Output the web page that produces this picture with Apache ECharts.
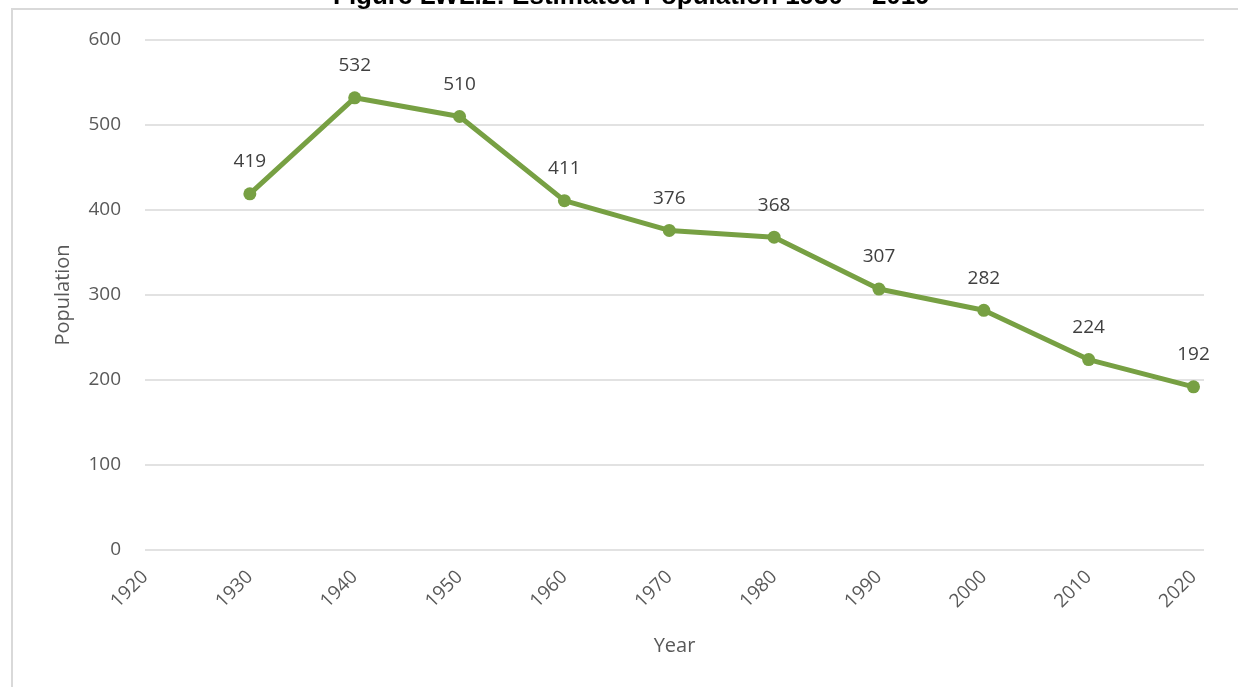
<!DOCTYPE html>
<html>
<head>
<meta charset="utf-8">
<script src="https://cdn.jsdelivr.net/npm/echarts@6/dist/echarts.min.js"></script>
<style>
html,body{margin:0;padding:0;background:#fff;}
#frame{position:absolute;left:11px;top:8px;width:1240px;height:700px;border-left:2px solid #d9d9d9;border-top:2px solid #d9d9d9;}
#c{position:absolute;left:0;top:0;width:1238px;height:687px;}
</style>
</head>
<body>
<div id="frame"></div>
<div id="c"></div>
<script>
const years = [1930, 1940, 1950, 1960, 1970, 1980, 1990, 2000, 2010, 2020];
const population = [419, 532, 510, 411, 376, 368, 307, 282, 224, 192];
const titleText = 'Figure LWL.2: Estimated Population 1930 \u2013 2019';

const chart = echarts.init(document.getElementById('c'), null, {renderer: 'canvas'});
const font = '"Open Sans", "Liberation Sans", sans-serif';
chart.setOption({
  animation: false,
  title: {
    text: titleText,
    left: 328,
    top: -21,
    textStyle: {fontFamily: '"Liberation Sans", Arial, sans-serif', fontWeight: 'bold', fontSize: 26, color: '#000'}
  },
  grid: {left: 145, right: 34, top: 40, bottom: 137, containLabel: false},
  xAxis: {
    type: 'value',
    min: 1920, max: 2021, interval: 10,
    name: 'Year', nameLocation: 'middle', nameGap: 86,
    nameTextStyle: {fontFamily: font, fontSize: 20, color: '#595959'},
    axisLine: {show: false}, axisTick: {show: false}, splitLine: {show: false},
    axisLabel: {rotate: 45, margin: 24, fontFamily: font, fontSize: 19, color: '#595959',
      formatter: v => (v % 10 === 0 ? String(v) : '')}
  },
  yAxis: {
    type: 'value', min: 0, max: 600, interval: 100,
    name: 'Population', nameLocation: 'middle', nameGap: 72,
    nameTextStyle: {fontFamily: font, fontSize: 20, color: '#595959'},
    axisLine: {show: false}, axisTick: {show: false},
    splitLine: {lineStyle: {color: '#d9d9d9', width: 1.5}},
    axisLabel: {margin: 24, fontFamily: font, fontSize: 19, color: '#595959'}
  },
  series: [{
    type: 'line',
    data: years.map((y, i) => [y, population[i]]),
    symbol: 'circle', symbolSize: 13,
    lineStyle: {color: '#77A043', width: 5},
    itemStyle: {color: '#77A043'},
    label: {show: true, position: 'top', distance: 16, fontFamily: font, fontSize: 19, color: '#404040',
      formatter: p => p.value[1]}
  }]
});
</script>
</body>
</html>
